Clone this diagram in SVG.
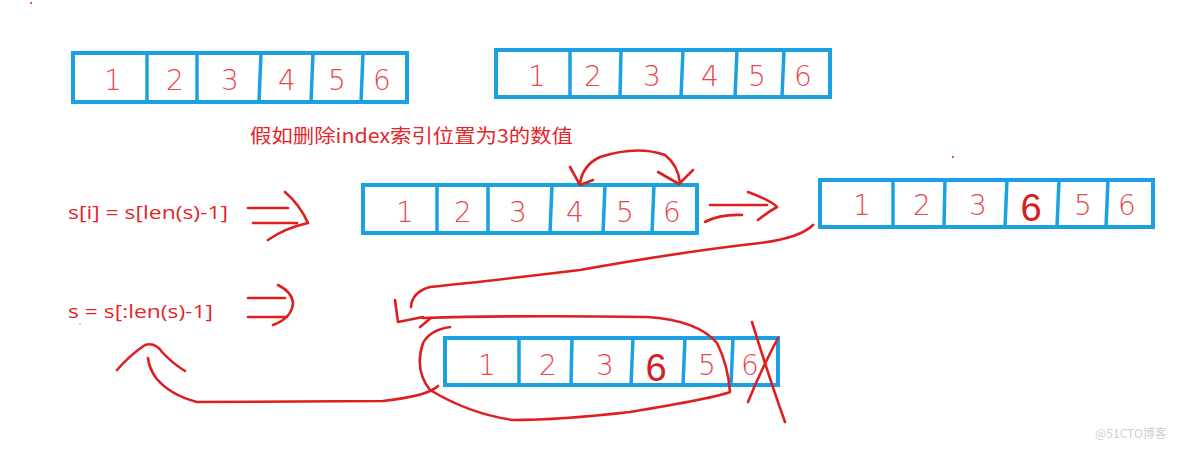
<svg xmlns="http://www.w3.org/2000/svg" width="1184" height="449" viewBox="0 0 1184 449">
<style>
.box{fill:#fff;stroke:#1ba1e2;stroke-width:4}
.div{stroke:#1ba1e2;stroke-width:3.5}
.dg{font-family:"DejaVu Sans","Liberation Sans",sans-serif;font-weight:200;font-size:28px;fill:#e8484c;text-anchor:middle}
.dgb{font-family:"Liberation Sans",sans-serif;font-weight:normal;font-size:38px;fill:#d42020;text-anchor:middle}
.ink{fill:none;stroke:#df1f1f;stroke-width:2.6;stroke-linecap:round;stroke-linejoin:round}
.lbl{font-family:"Open Sans","Liberation Sans",sans-serif;font-size:18px;fill:#e5252a}
.cjk{font-family:"Noto Sans CJK SC",sans-serif;font-size:19px;fill:#e5252a}
</style>
<rect width="1184" height="449" fill="#fff"/>

<g id="array-top-left">
<rect class="box" x="73" y="53" width="334" height="49"/>
<line class="div" x1="147" y1="53" x2="147" y2="102"/><line class="div" x1="197" y1="53" x2="197" y2="102"/><line class="div" x1="261" y1="53" x2="259" y2="102"/><line class="div" x1="313" y1="53" x2="311" y2="102"/><line class="div" x1="363" y1="53" x2="361" y2="102"/>
<text class="dg" x="113" y="90">1</text><text class="dg" x="175" y="90">2</text><text class="dg" x="230" y="90">3</text><text class="dg" x="287" y="90">4</text><text class="dg" x="337" y="90">5</text><text class="dg" x="382" y="90">6</text>
</g>

<g id="array-top-right">
<rect class="box" x="496" y="50" width="334" height="47"/>
<line class="div" x1="570" y1="50" x2="570" y2="97"/><line class="div" x1="621" y1="50" x2="620" y2="97"/><line class="div" x1="683" y1="50" x2="681" y2="97"/><line class="div" x1="737" y1="50" x2="735" y2="97"/><line class="div" x1="784" y1="50" x2="782" y2="97"/>
<text class="dg" x="537" y="86">1</text><text class="dg" x="593" y="86">2</text><text class="dg" x="652" y="86">3</text><text class="dg" x="710" y="86">4</text><text class="dg" x="757" y="86">5</text><text class="dg" x="803" y="86">6</text>
</g>

<g id="title">
<text class="cjk" x="250" y="143" textLength="323" lengthAdjust="spacingAndGlyphs">假如删除index索引位置为3的数值</text>
</g>

<g id="formula-1">
<text class="lbl" x="68" y="219" textLength="160" lengthAdjust="spacingAndGlyphs">s[i] = s[len(s)-1]</text>
</g>
<g id="formula-2">
<text class="lbl" x="68" y="318" textLength="145" lengthAdjust="spacingAndGlyphs">s = s[:len(s)-1]</text>
</g>

<g id="array-middle">
<rect class="box" x="363" y="185" width="334" height="48"/>
<line class="div" x1="437" y1="185" x2="437" y2="233"/><line class="div" x1="488" y1="185" x2="488" y2="233"/><line class="div" x1="552" y1="185" x2="550" y2="233"/><line class="div" x1="605" y1="185" x2="603" y2="233"/><line class="div" x1="654" y1="185" x2="652" y2="233"/>
<text class="dg" x="405" y="222">1</text><text class="dg" x="463" y="222">2</text><text class="dg" x="518" y="222">3</text><text class="dg" x="575" y="222">4</text><text class="dg" x="625" y="222">5</text><text class="dg" x="672" y="222">6</text>
</g>

<g id="array-right">
<rect class="box" x="820" y="180" width="333" height="47"/>
<line class="div" x1="893" y1="180" x2="893" y2="227"/><line class="div" x1="945" y1="180" x2="944" y2="227"/><line class="div" x1="1007" y1="180" x2="1005" y2="227"/><line class="div" x1="1059" y1="180" x2="1057" y2="227"/><line class="div" x1="1108" y1="180" x2="1106" y2="227"/>
<text class="dg" x="862" y="215">1</text><text class="dg" x="922" y="215">2</text><text class="dg" x="978" y="215">3</text><text class="dgb" x="1031" y="221">6</text><text class="dg" x="1083" y="215">5</text><text class="dg" x="1127" y="215">6</text>
</g>

<g id="array-bottom">
<rect class="box" x="445" y="338" width="333" height="47"/>
<line class="div" x1="519" y1="338" x2="519" y2="385"/><line class="div" x1="572" y1="338" x2="571" y2="385"/><line class="div" x1="633" y1="338" x2="631" y2="385"/><line class="div" x1="685" y1="338" x2="683" y2="385"/><line class="div" x1="733" y1="338" x2="731" y2="385"/>
<text class="dg" x="487" y="375">1</text><text class="dg" x="548" y="375">2</text><text class="dg" x="605" y="375">3</text><text class="dgb" x="656" y="381">6</text><text class="dg" x="707" y="375">5</text><text class="dg" x="750" y="375">6</text>
</g>

<g id="connectors">
<!-- double arrow 1 -->
<path class="ink" d="M248,208 L288,208 M253,223 L297,223 M285,192 Q300,205 308,223 Q285,228 268,240"/>
<!-- double arrow 2 -->
<path class="ink" d="M248,298 L285,298 M248,317 L287,317 M278,285 Q292,292 293,303 Q292,318 273,325"/>
<!-- swap arc -->
<path class="ink" d="M580,183 Q583,165 600,157 Q637,145 665,155 Q678,165 680,183"/>
<path class="ink" d="M570,167 L580,185 L593,180 M658,172 L679,184 L693,170"/>
<!-- arrow middle to right -->
<path class="ink" d="M710,205 L767,205 M705,222 Q720,214 742,215 M748,192 Q770,200 777,207 Q768,212 758,220"/>
<!-- long curve from right array down to bottom -->
<path class="ink" d="M813,225 Q800,238 760,243 Q680,252 580,270 Q480,282 430,287 Q412,292 411,307"/>
<path class="ink" d="M395,300 L398,322 L423,317 M420,327 L431,318"/>
<!-- ellipse around bottom array -->
<path class="ink" d="M423,318 Q520,315 647,317 Q697,320 717,343 Q728,365 730,392 Q715,398 630,412 Q560,420 513,420 Q470,414 430,390 Q414,370 423,343 Q430,330 450,327"/>
<!-- X over last cell -->
<path class="ink" d="M752,322 Q770,380 785,422 M778,338 Q760,372 748,402"/>
<!-- bottom-left return curve -->
<path class="ink" d="M438,386 Q428,396 383,401 L197,402 Q170,395 156,378 Q149,368 148,358"/>
<path class="ink" d="M117,370 Q130,355 145,345 Q155,342 162,352 Q172,363 185,371"/>
</g>

<g id="specks">
<circle cx="31" cy="3" r="1" fill="#df1f1f"/>
<circle cx="953" cy="157" r="1" fill="#df1f1f"/>
<circle cx="80" cy="324" r="0.8" fill="#999"/>
</g>

<g id="watermark">
<text x="1095" y="438" font-family="'Noto Sans CJK SC',sans-serif" font-size="12" fill="#cfcfcf">@51CTO博客</text>
</g>
</svg>
